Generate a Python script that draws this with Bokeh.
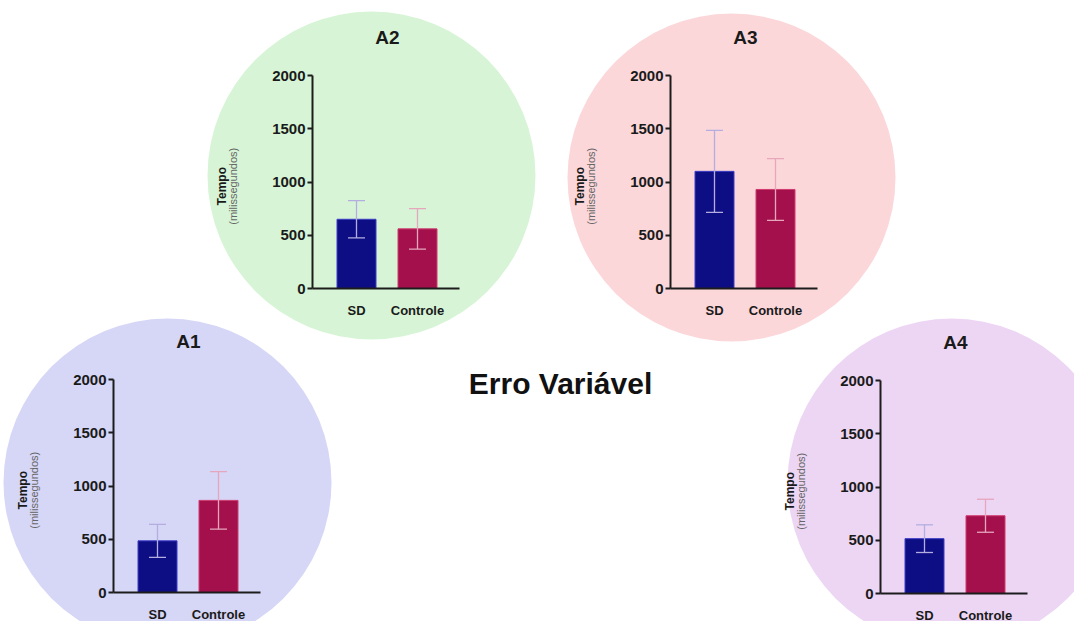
import math
from bokeh.plotting import figure
from bokeh.models import Range1d, LinearAxis, FixedTicker, ColumnDataSource
from bokeh.core.properties import value
from bokeh.embed import file_html
from bokeh.resources import INLINE

# ---------------- data ----------------
panels = ["A1", "A2", "A3", "A4"]
categories = ["SD", "Controle"]
sd_means = [485, 650, 1100, 515]
sd_errors = [155, 175, 385, 130]
ctrl_means = [865, 560, 930, 730]
ctrl_errors = [270, 190, 290, 155]
y_ticks = [0, 500, 1000, 1500, 2000]
main_title = "Erro Variável"
y_label = "Tempo"
y_sublabel = "(milissegundos)"

# ---------------- layout / style ----------------
W, H = 1074, 621
circle_centers = {"A1": (167, 482), "A2": (371, 175), "A3": (731, 177), "A4": (951, 482)}
circle_radius = 164
circle_colors = {"A1": "#d6d6f6", "A2": "#d7f5d6", "A3": "#fbd7da", "A4": "#edd6f4"}
axis_origin = {"A1": (113, 592), "A2": (312, 288), "A3": (670, 288), "A4": (880, 593)}
AXIS_H = 213.0
GAP0 = 44.0
STEP = 61.0
BAR_W = 39.0
CAP_W = 17.0
XLEN = 147.0
FONT = "Liberation Sans"
bar_fill = ["#0e0e84", "#a3104c"]
bar_line = ["#3c3cc8", "#d03a6c"]
err_color = ["#b4aee0", "#e6a6bc"]
axis_color = "#1c1c1c"

p = figure(width=W, height=H, x_range=Range1d(0, W), y_range=Range1d(H, 0),
           x_axis_type=None, y_axis_type=None, toolbar_location=None, output_backend="svg",
           min_border=0, outline_line_color=None, background_fill_color="white",
           border_fill_color="white")
p.grid.visible = False

# background circles
for name in panels:
    cx, cy = circle_centers[name]
    p.ellipse(x=[cx], y=[cy], width=2 * circle_radius, height=2 * circle_radius,
              fill_color=circle_colors[name], line_color=None)

for i, name in enumerate(panels):
    ax, y0 = axis_origin[name]
    k = 2000.0 / AXIS_H
    c0 = ax + GAP0
    p.extra_y_ranges[name] = Range1d(start=(y0 - H) * k, end=y0 * k)
    p.extra_x_ranges[name] = Range1d(start=(0 - c0) / STEP, end=(W - c0) / STEP)

    means = [sd_means[i], ctrl_means[i]]
    errs = [sd_errors[i], ctrl_errors[i]]
    src = ColumnDataSource(dict(x=[0, 1], top=means, fill=bar_fill, line=bar_line))
    p.vbar(x="x", top="top", bottom=0, width=BAR_W / STEP, fill_color="fill",
           line_color="line", line_width=1, source=src,
           x_range_name=name, y_range_name=name)

    # error bars (vertical line + caps) built from the values
    hw = CAP_W / 2 / STEP
    up = [m + e for m, e in zip(means, errs)]
    lo = [m - e for m, e in zip(means, errs)]
    esrc = ColumnDataSource(dict(x=[0, 1], up=up, lo=lo, xl=[-hw, 1 - hw], xr=[hw, 1 + hw],
                                 c=err_color))
    p.segment(x0="x", y0="lo", x1="x", y1="up", line_color="c", line_width=1.3,
              source=esrc, x_range_name=name, y_range_name=name)
    p.segment(x0="xl", y0="up", x1="xr", y1="up", line_color="c", line_width=1.3,
              source=esrc, x_range_name=name, y_range_name=name)
    p.segment(x0="xl", y0="lo", x1="xr", y1="lo", line_color="c", line_width=1.3,
              source=esrc, x_range_name=name, y_range_name=name)

    # y axis
    yax = LinearAxis(x_range_name=name, y_range_name=name,
                     fixed_location=(ax - c0) / STEP, bounds=(0, 2000),
                     ticker=FixedTicker(ticks=y_ticks),
                     axis_line_color=axis_color, axis_line_width=2,
                     major_tick_line_color=axis_color, major_tick_line_width=2,
                     major_tick_out=5, major_tick_in=0, minor_tick_out=0, minor_tick_in=0,
                     major_label_standoff=2,
                     major_label_text_font=FONT, major_label_text_font_style="bold",
                     major_label_text_font_size="15px", major_label_text_color="#1a1a1a")
    p.add_layout(yax, "left")

    # x axis
    xax = LinearAxis(x_range_name=name, y_range_name=name, fixed_location=0,
                     bounds=((ax - c0) / STEP, (ax + XLEN - c0) / STEP),
                     ticker=FixedTicker(ticks=[0, 1]),
                     major_label_overrides={0: categories[0], 1: categories[1]},
                     axis_line_color=axis_color, axis_line_width=2,
                     major_tick_out=0, major_tick_in=0, minor_tick_out=0, minor_tick_in=0,
                     major_label_standoff=14,
                     major_label_text_font=FONT, major_label_text_font_style="bold",
                     major_label_text_font_size="13px", major_label_text_color="#1a1a1a")
    p.add_layout(xax, "below")

    # panel title
    p.text(x=[(ax + 75 - c0) / STEP], y=[2000 + 38 * k], text=[name],
           text_font=value(FONT), text_font_style="bold", text_font_size="19px",
           text_align="center", text_baseline="middle", text_color="#1a1a1a",
           x_range_name=name, y_range_name=name)

    # y labels
    p.text(x=[(ax - 91 - c0) / STEP], y=[960], text=[y_label], angle=math.pi / 2,
           text_font=value(FONT), text_font_style="bold", text_font_size="12px",
           text_align="center", text_baseline="middle", text_color="#1a1a1a",
           x_range_name=name, y_range_name=name)
    p.text(x=[(ax - 80 - c0) / STEP], y=[960], text=[y_sublabel], angle=math.pi / 2,
           text_font=value(FONT), text_font_size="11px",
           text_align="center", text_baseline="middle", text_color="#666666",
           x_range_name=name, y_range_name=name)

# main title
p.text(x=[560], y=[383], text=[main_title], text_font=value(FONT), text_font_style="bold",
       text_font_size="30px", text_align="center", text_baseline="middle", text_color="#111111")

open("out.html", "w").write(file_html(p, INLINE))
